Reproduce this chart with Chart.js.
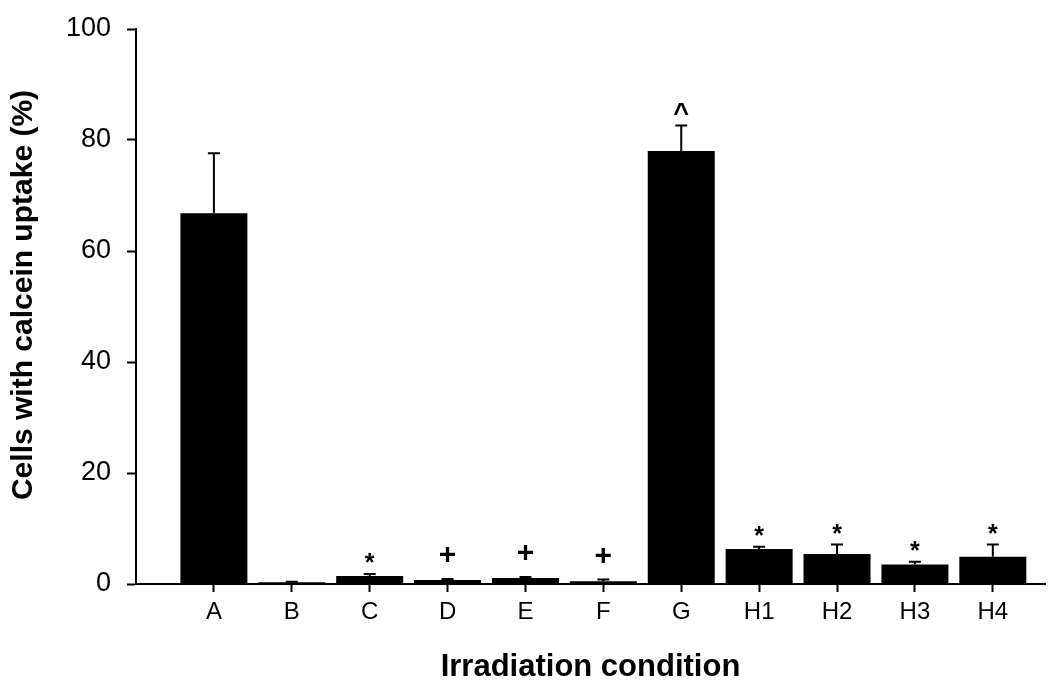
<!DOCTYPE html>
<html>
<head>
<meta charset="utf-8">
<script src="https://cdn.jsdelivr.net/npm/chart.js@4/dist/chart.umd.min.js"></script>
<style>
  html, body { margin: 0; padding: 0; background: #fff; }
  #wrap { width: 1050px; height: 694px; }
</style>
</head>
<body>
<div id="wrap"><canvas id="barChart" width="1050" height="694"></canvas></div>
<script>
// values
var conditions = ['A', 'B', 'C', 'D', 'E', 'F', 'G', 'H1', 'H2', 'H3', 'H4'];
var uptake = [66.8, 0.3, 1.45, 0.7, 1.1, 0.5, 78.0, 6.3, 5.4, 3.5, 4.9];
var uptakeErr = [10.8, 0.1, 0.35, 0.2, 0.15, 0.3, 4.6, 0.4, 1.7, 0.5, 2.2];
var marks = ['', '', '*', '+', '+', '+', '^', '*', '*', '*', '*'];
var yTicks = [0, 20, 40, 60, 80, 100];
var yTitle = 'Cells with calcein uptake (%)';

var FONT = 'Arial, "Liberation Sans", Helvetica, sans-serif';

// error bars (upper only) + significance symbols + y title
var errorBars = {
    id: 'errorBars',
    afterDatasetsDraw: function (chart) {
        var ctx = chart.ctx;
        var xs = chart.scales.x, ys = chart.scales.y;
        ctx.save();
        ctx.strokeStyle = '#000';
        ctx.lineWidth = 2;
        ctx.fillStyle = '#000';
        ctx.textAlign = 'center';
        ctx.textBaseline = 'alphabetic';
        uptake.forEach(function (v, i) {
            var px = xs.getPixelForValue(i + 1);
            var yTop = ys.getPixelForValue(v);
            var yCap = ys.getPixelForValue(v + uptakeErr[i]);
            ctx.beginPath();
            ctx.moveTo(px, yTop);
            ctx.lineTo(px, yCap);
            ctx.moveTo(px - 6, yCap);
            ctx.lineTo(px + 6, yCap);
            ctx.stroke();
            var m = marks[i];
            if (m === '*') {
                ctx.font = 'bold 25px ' + FONT;
                ctx.fillText(m, px, yCap - 3);
            } else if (m === '+') {
                ctx.font = 'bold 30px ' + FONT;
                ctx.fillText(m, px, yCap - 15);
            } else if (m === '^') {
                ctx.font = 'bold 27px ' + FONT;
                ctx.fillText(m, px, yCap - 4);
            }
        });

        // y axis title, sits a little above the axis middle in the original
        ctx.translate(24, 295);
        ctx.rotate(-Math.PI / 2);
        ctx.textBaseline = 'middle';
        ctx.font = 'bold 30px ' + FONT;
        ctx.fillText(yTitle, 0, 0);
        ctx.restore();
    }
};

var ctx = document.getElementById('barChart').getContext('2d');
var myChart = new Chart(ctx, {
    type: 'bar',
    data: {
        datasets: [{
            data: uptake.map(function (v, i) { return { x: i + 1, y: v }; }),
            backgroundColor: '#000',
            borderWidth: 0,
            barPercentage: 0.86,
            categoryPercentage: 1
        }]
    },
    options: {
        responsive: false,
        devicePixelRatio: 1,
        animation: false,
        layout: { padding: { top: 29, right: 5, left: 0, bottom: 0 } },
        plugins: {
            legend: { display: false },
            tooltip: { enabled: false }
        },
        scales: {
            x: {
                type: 'linear',
                min: 0,
                max: 11.67,
                offset: false,
                afterBuildTicks: function (scale) {
                    scale.ticks = conditions.map(function (c, i) { return { value: i + 1 }; });
                },
                afterFit: function (scale) {
                    scale.height = 110;
                    scale.paddingLeft = 0;
                    scale.paddingRight = 0;
                },
                ticks: {
                    autoSkip: false,
                    maxRotation: 0,
                    padding: 6,
                    color: '#000',
                    font: { family: FONT, size: 24 },
                    callback: function (value) { return conditions[value - 1] || ''; }
                },
                grid: {
                    offset: false,
                    drawOnChartArea: false,
                    drawTicks: true,
                    tickLength: 8,
                    tickWidth: 2,
                    color: '#000'
                },
                border: { display: true, color: '#000', width: 2 },
                title: {
                    display: true,
                    text: 'Irradiation condition',
                    color: '#000',
                    font: { family: FONT, size: 31, weight: 'bold' },
                    padding: { top: 0, bottom: 8 }
                }
            },
            y: {
                min: 0,
                max: 100,
                afterBuildTicks: function (scale) {
                    scale.ticks = yTicks.map(function (t) { return { value: t }; });
                },
                afterFit: function (scale) {
                    scale.width = 136;
                    scale.paddingTop = 0;
                    scale.paddingBottom = 0;
                },
                ticks: {
                    padding: 16,
                    color: '#000',
                    font: { family: FONT, size: 27 }
                },
                grid: {
                    drawOnChartArea: false,
                    drawTicks: true,
                    tickLength: 9,
                    tickWidth: 2,
                    color: '#000'
                },
                border: { display: true, color: '#000', width: 2 }
            }
        }
    },
    plugins: [errorBars]
});
</script>
</body>
</html>
